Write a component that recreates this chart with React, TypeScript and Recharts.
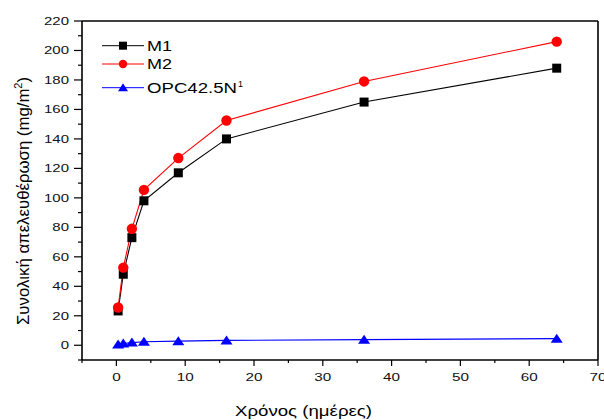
import React from 'react';
import { LineChart, Line, XAxis, YAxis, Legend, ReferenceLine } from 'recharts';

const days = [0.25, 1, 2.25, 4, 9, 16, 36, 64];
const m1Values = [23.3, 48.2, 73, 98, 117, 140, 165, 188];
const m2Values = [25.6, 52.7, 79, 105.4, 127, 152.5, 179, 206];
const opcValues = [0.6, 1.2, 1.8, 2.4, 2.8, 3.3, 3.8, 4.5];
const xTicks = [-5, 0, 5, 10, 15, 20, 25, 30, 35, 40, 45, 50, 55, 60, 65, 70];
const yTicks = [-10, 0, 10, 20, 30, 40, 50, 60, 70, 80, 90, 100, 110, 120, 130, 140, 150, 160, 170, 180, 190, 200, 210, 220];
const seriesNames = ['M1', 'M2', 'OPC42.5N'];

const data = days.map((d, i) => ({ x: d, m1: m1Values[i], m2: m2Values[i], opc: opcValues[i] }));

const FONT = '"Liberation Sans", Arial, sans-serif';

const XTick = (props: any) => {
  const { x, y, payload } = props;
  const v = payload.value;
  const major = v % 10 === 0;
  return (
    <g>
      <line x1={x} x2={x} y1={y} y2={y + (major ? 6 : 3)} stroke="#000" strokeWidth={1.2} />
      {major && (
        <text
          transform={`translate(${x},${y + 21}) scale(1.33,1)`}
          textAnchor="middle"
          fontSize={11.5}
          fontFamily={FONT}
          fill="#111"
        >
          {v}
        </text>
      )}
    </g>
  );
};

const YTick = (props: any) => {
  const { x, y, payload } = props;
  const v = payload.value;
  const major = v % 20 === 0;
  return (
    <g>
      <line x1={x - (major ? 8 : 4)} x2={x} y1={y} y2={y} stroke="#000" strokeWidth={1.2} />
      {major && (
        <text
          transform={`translate(${x - 13},${y + 4}) scale(1.36,1)`}
          textAnchor="end"
          fontSize={11}
          fontFamily={FONT}
          fill="#111"
        >
          {v}
        </text>
      )}
    </g>
  );
};

const SquareDot = (props: any) => {
  const { cx, cy, index } = props;
  return <rect key={`s${index}`} x={cx - 4.5} y={cy - 4.5} width={9} height={9} fill="#000" />;
};
const CircleDot = (props: any) => {
  const { cx, cy, index } = props;
  return <circle key={`c${index}`} cx={cx} cy={cy} r={5.2} fill="#ff0000" />;
};
const TriDot = (props: any) => {
  const { cx, cy, index } = props;
  return (
    <path
      key={`t${index}`}
      d={`M${cx - 6},${cy + 4} L${cx + 6},${cy + 4} L${cx},${cy - 5} Z`}
      fill="#0000ff"
    />
  );
};

const LegendContent = () => {
  const rows = [
    { y: 15.7, color: '#000', kind: 'sq', text: seriesNames[0], len: 25 },
    { y: 34, color: '#ff0000', kind: 'ci', text: seriesNames[1], len: 25 },
    { y: 57.7, color: '#0000ff', kind: 'tr', text: seriesNames[2], len: 90 },
  ];
  return (
    <svg width={170} height={75} style={{ display: 'block' }}>
      {rows.map((r) => (
        <g key={r.text}>
          <line x1={7} x2={49} y1={r.y} y2={r.y} stroke={r.color} strokeWidth={1} />
          {r.kind === 'sq' && <rect x={24} y={r.y - 4} width={8} height={8} fill={r.color} />}
          {r.kind === 'ci' && <circle cx={28} cy={r.y} r={4.2} fill={r.color} />}
          {r.kind === 'tr' && (
            <path d={`M${23},${r.y + 3.5} L${33},${r.y + 3.5} L${28},${r.y - 4.5} Z`} fill={r.color} />
          )}
          <text
            x={52}
            y={r.y + 5}
            fontSize={14}
            fontFamily={FONT}
            fill="#000"
            textLength={r.len}
            lengthAdjust="spacingAndGlyphs"
          >
            {r.text}
          </text>
          {r.kind === 'tr' && (
            <text x={143} y={r.y - 1} fontSize={9} fontFamily={FONT} fill="#000">
              1
            </text>
          )}
        </g>
      ))}
    </svg>
  );
};

export default function App() {
  return (
    <div style={{ position: 'absolute', left: 0, top: 0, width: 604, height: 420, background: '#fff' }}>
      <LineChart
        width={604}
        height={420}
        data={data}
        margin={{ top: 21, right: 6, left: 22, bottom: 30 }}
      >
        <XAxis
          dataKey="x"
          type="number"
          domain={[-5, 70]}
          ticks={xTicks}
          interval={0}
          allowDataOverflow
          height={30}
          tickSize={0}
          tickMargin={0}
          tickLine={false}
          axisLine={{ stroke: '#000', strokeWidth: 1.6 }}
          tick={<XTick />}
        />
        <YAxis
          type="number"
          domain={[-10, 220]}
          ticks={yTicks}
          interval={0}
          allowDataOverflow
          width={60}
          tickSize={0}
          tickMargin={0}
          tickLine={false}
          axisLine={{ stroke: '#000', strokeWidth: 1.6 }}
          tick={<YTick />}
        />
        <ReferenceLine y={220} stroke="#000" strokeWidth={1.6} ifOverflow="extendDomain" />
        <ReferenceLine x={70} stroke="#000" strokeWidth={1.6} ifOverflow="extendDomain" />
        <Legend
          layout="vertical"
          align="center"
          verticalAlign="middle"
          wrapperStyle={{ left: 95, top: 30, width: 170, height: 75 }}
          content={<LegendContent />}
        />
        <Line
          dataKey="m1"
          name={seriesNames[0]}
          stroke="#000"
          strokeWidth={1.1}
          dot={SquareDot}
          activeDot={false}
          isAnimationActive={false}
        />
        <Line
          dataKey="m2"
          name={seriesNames[1]}
          stroke="#ff0000"
          strokeWidth={1.1}
          dot={CircleDot}
          activeDot={false}
          isAnimationActive={false}
        />
        <Line
          dataKey="opc"
          name={seriesNames[2]}
          stroke="#0000ff"
          strokeWidth={1.1}
          dot={TriDot}
          activeDot={false}
          isAnimationActive={false}
        />
      </LineChart>
      <svg
        width={604}
        height={420}
        style={{ position: 'absolute', left: 0, top: 0, pointerEvents: 'none' }}
      >
        <text
          transform="translate(29,201) rotate(-90)"
          textAnchor="middle"
          fontSize={17}
          fontFamily={FONT}
          fill="#000"
          textLength={248}
          lengthAdjust="spacingAndGlyphs"
        >
          Συνολική απελευθέρωση (mg/m<tspan fontSize={11} dy={-7}>2</tspan><tspan dy={7}>)</tspan>
        </text>
        <text
          x={303.5}
          y={416}
          textAnchor="middle"
          fontSize={14}
          fontFamily={FONT}
          fill="#000"
          textLength={137}
          lengthAdjust="spacingAndGlyphs"
        >
          Χρόνος (ημέρες)
        </text>
      </svg>
    </div>
  );
}
